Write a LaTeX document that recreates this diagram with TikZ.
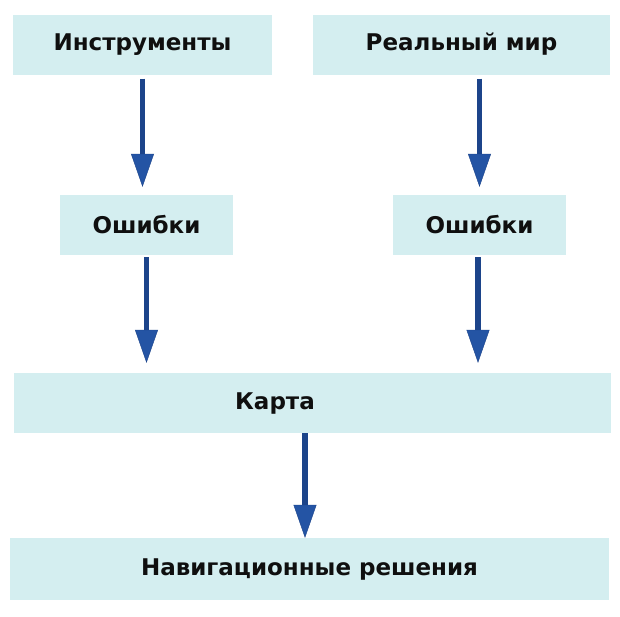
\documentclass[tikz,border=0pt]{standalone}
\usepackage{fontspec}
\setmainfont{DejaVu Sans}
\usetikzlibrary{arrows.meta,positioning}
\definecolor{boxcyan}{RGB}{212,238,240}
\definecolor{arrowblue}{RGB}{28,68,138}
\definecolor{headblue}{RGB}{36,84,164}
\definecolor{textdark}{RGB}{15,15,15}

\begin{document}
\begin{tikzpicture}[x=1pt, y=-1pt,
  blk/.style={rectangle, fill=boxcyan, minimum height=60pt, inner sep=0pt,
              text=textdark, font=\bfseries\fontsize{23}{27}\selectfont},
  arr/.style={-{Triangle[length=33pt, width=23pt, line width=0.4pt, fill=headblue]},
              draw=arrowblue, line width=5.5pt},
]
\useasboundingbox (0,0) rectangle (620,616);

% Row 0 — sources
\node[blk, minimum width=259pt] (instr) at (142.5,44.5) {Инструменты};
\node[blk, minimum width=297pt] (real)  at (461.5,44.5) {Реальный мир};

% Row 1 — errors
\node[blk, minimum width=173pt] (errL) at (146.5,225) {Ошибки};
\node[blk, minimum width=173pt] (errR) at (479.5,225) {Ошибки};

% Row 2 — map
\node[blk, minimum width=597pt] (map) at (312.5,403) {Карта\hspace*{75pt}};

% Row 3 — decisions
\node[blk, minimum width=599pt, minimum height=62pt] (nav) at (309.5,569)
  {Навигационные решения};

% Arrows
\draw[arr, shorten <=4pt, shorten >=8pt] (instr.south) -- (instr.south |- errL.north);
\draw[arr, shorten <=4pt, shorten >=8pt] (errR.north |- real.south) -- (errR.north);

\draw[arr, shorten <=2pt, shorten >=10pt] (errL.south) -- (errL.south |- map.north);
\draw[arr, shorten <=2pt, shorten >=10pt] ([xshift=-1.5pt]errR.south) -- ([xshift=-1.5pt]errR.south |- map.north);

\draw[arr] ([xshift=-7.5pt]map.south) -- ([xshift=-7.5pt]map.south |- nav.north);
\end{tikzpicture}
\end{document}
